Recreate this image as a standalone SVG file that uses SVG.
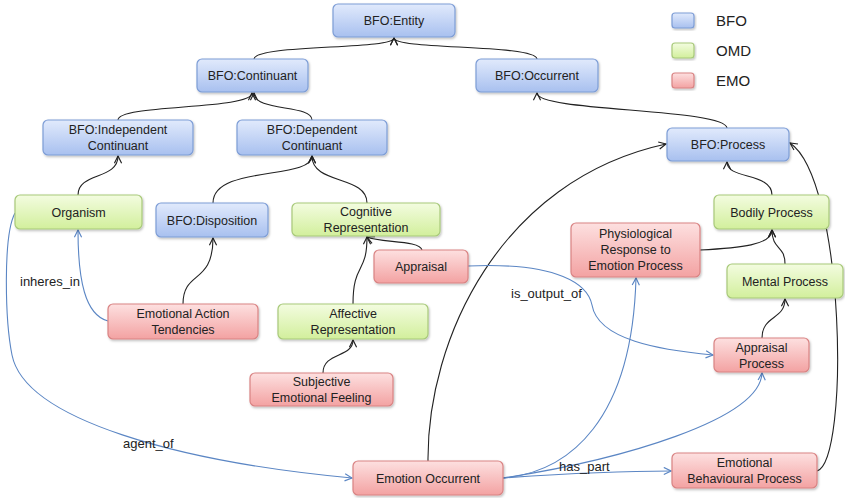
<svg xmlns="http://www.w3.org/2000/svg" width="845" height="498" viewBox="0 0 845 498">
<defs>
<linearGradient id="gB" x1="0" y1="0" x2="0" y2="1"><stop offset="0" stop-color="#e1eafc"/><stop offset="1" stop-color="#a8c0ef"/></linearGradient>
<linearGradient id="gG" x1="0" y1="0" x2="0" y2="1"><stop offset="0" stop-color="#f3fce0"/><stop offset="1" stop-color="#d2ef9c"/></linearGradient>
<linearGradient id="gR" x1="0" y1="0" x2="0" y2="1"><stop offset="0" stop-color="#fde0e0"/><stop offset="1" stop-color="#f3a2a2"/></linearGradient>
<filter id="sh" x="-10%" y="-10%" width="120%" height="130%"><feDropShadow dx="1" dy="1.5" stdDeviation="1" flood-color="#000" flood-opacity="0.25"/></filter>
<marker id="aK" viewBox="0 0 10 10" refX="9" refY="5" markerWidth="9" markerHeight="9" markerUnits="userSpaceOnUse" orient="auto"><path d="M1,1 L9,5 L1,9" fill="none" stroke="#222" stroke-width="1.3"/></marker>
<marker id="aB" viewBox="0 0 10 10" refX="9" refY="5" markerWidth="9" markerHeight="9" markerUnits="userSpaceOnUse" orient="auto"><path d="M1,1 L9,5 L1,9" fill="none" stroke="#5b86c4" stroke-width="1.3"/></marker>
</defs>
<style>
.n rect{stroke-width:1.2;filter:url(#sh)}
.b rect{fill:url(#gB);stroke:#7d9dd6}
.g rect{fill:url(#gG);stroke:#a8c97a}
.r rect{fill:url(#gR);stroke:#d98383}
.n text{font-family:"Liberation Sans",Arial,sans-serif;font-size:12.5px;fill:#222;text-anchor:middle}
.k{fill:none;stroke:#222;stroke-width:1.1;marker-end:url(#aK)}
.u{fill:none;stroke:#5b86c4;stroke-width:1.1;marker-end:url(#aB)}
.lbl{font-family:"Liberation Sans",Arial,sans-serif;font-size:13px;fill:#222}
.leg{font-family:"Liberation Sans",Arial,sans-serif;font-size:15px;fill:#222}
</style>
<rect width="845" height="498" fill="#fff"/>
<g id="connectors">
<path class="k" d="M254,59 C256,44 394,50 394,38"/>
<path class="k" d="M537,59 C535,44 394,50 394,38"/>
<path class="k" d="M118,120 C118,104 252,110 252,93"/>
<path class="k" d="M312,120 C312,104 254,112 254,93"/>
<path class="k" d="M78,195 C78,172 118,180 118,156"/>
<path class="k" d="M213,203 C213,165 312,180 312,156"/>
<path class="k" d="M367,203 C367,175 312,185 312,156"/>
<path class="k" d="M183,304 C183,270 213,285 213,238"/>
<path class="k" d="M353,304 C353,262 367,275 367,237"/>
<path class="k" d="M422,250 C420,240 380,243 367,237"/>
<path class="k" d="M323,373 C323,352 353,358 353,340"/>
<path class="k" d="M727,128 C725,108 537,112 537,93"/>
<path class="k" d="M428,461 C427,340 500,180 666,144"/>
<path class="k" d="M772,195 C772,172 727,180 727,162"/>
<path class="k" d="M700,250 C740,248 772,245 772,230"/>
<path class="k" d="M785,264 C785,245 772,250 772,230"/>
<path class="k" d="M762,338 C762,315 785,320 785,299"/>
<path class="k" d="M817,471 C850,460 845,180 790,143"/>
<path class="u" d="M108,321 C85,315 78,280 78,230"/>
<path class="u" d="M15,213 C3,235 5,320 12,355 C25,420 180,462 352,478"/>
<path class="u" d="M468,266 C560,262 588,285 592,305 C598,340 660,350 713,355"/>
<path class="u" d="M503,478 C570,472 632,420 636,278"/>
<path class="u" d="M503,478 C620,460 760,420 762,373"/>
<path class="u" d="M503,478 C560,474 620,471 671,471"/>
<text class="lbl" x="20" y="286">inheres_in</text>
<text class="lbl" x="511" y="298">is_output_of</text>
<text class="lbl" x="123" y="448">agent_of</text>
<text class="lbl" x="559" y="471">has_part</text>
</g>
<g id="entity" class="n b"><rect x="333" y="4" width="122" height="33" rx="5"/><text x="394" y="25">BFO:Entity</text></g>
<g id="continuant" class="n b"><rect x="197" y="59" width="111" height="33" rx="5"/><text x="252.5" y="80">BFO:Continuant</text></g>
<g id="occurrent" class="n b"><rect x="476" y="59" width="122" height="33" rx="5"/><text x="537" y="80">BFO:Occurrent</text></g>
<g id="indep" class="n b"><rect x="43" y="120" width="150" height="35" rx="5"/><text x="118" y="134">BFO:Independent</text><text x="118" y="150">Continuant</text></g>
<g id="dep" class="n b"><rect x="237" y="120" width="150" height="35" rx="5"/><text x="312" y="134">BFO:Dependent</text><text x="312" y="150">Continuant</text></g>
<g id="organism" class="n g"><rect x="15" y="195" width="127" height="34" rx="5"/><text x="78.5" y="216.5">Organism</text></g>
<g id="disposition" class="n b"><rect x="156" y="203" width="112" height="34" rx="5"/><text x="212" y="224.5">BFO:Disposition</text></g>
<g id="cogrep" class="n g"><rect x="292" y="203" width="148" height="33" rx="5"/><text x="366" y="215.5">Cognitive</text><text x="366" y="231.5">Representation</text></g>
<g id="appraisal" class="n r"><rect x="374" y="250" width="94" height="33" rx="5"/><text x="421" y="271">Appraisal</text></g>
<g id="eat" class="n r"><rect x="108" y="304" width="150" height="35" rx="5"/><text x="183" y="318">Emotional Action</text><text x="183" y="334">Tendencies</text></g>
<g id="affrep" class="n g"><rect x="278" y="304" width="150" height="35" rx="5"/><text x="353" y="318">Affective</text><text x="353" y="334">Representation</text></g>
<g id="sef" class="n r"><rect x="250" y="373" width="143" height="33" rx="5"/><text x="321.5" y="386">Subjective</text><text x="321.5" y="402">Emotional Feeling</text></g>
<g id="process" class="n b"><rect x="667" y="128" width="122" height="33" rx="5"/><text x="728" y="149">BFO:Process</text></g>
<g id="bodily" class="n g"><rect x="714" y="195" width="115" height="34" rx="5"/><text x="771.5" y="216.5">Bodily Process</text></g>
<g id="physio" class="n r"><rect x="571" y="223" width="129" height="54" rx="5"/><text x="635.5" y="238">Physiological</text><text x="635.5" y="254">Response to</text><text x="635.5" y="270">Emotion Process</text></g>
<g id="mental" class="n g"><rect x="727" y="264" width="116" height="34" rx="5"/><text x="785" y="285.5">Mental Process</text></g>
<g id="approc" class="n r"><rect x="714" y="338" width="95" height="34" rx="5"/><text x="761.5" y="351.5">Appraisal</text><text x="761.5" y="367.5">Process</text></g>
<g id="ebp" class="n r"><rect x="672" y="453" width="145" height="35" rx="5"/><text x="744.5" y="467">Emotional</text><text x="744.5" y="483">Behavioural Process</text></g>
<g id="eo" class="n r"><rect x="353" y="461" width="150" height="34" rx="5"/><text x="428" y="482.5">Emotion Occurrent</text></g>
<g id="legend">
<g class="n b"><rect x="672" y="13" width="22" height="15" rx="3"/></g>
<g class="n g"><rect x="672" y="43" width="22" height="15" rx="3"/></g>
<g class="n r"><rect x="672" y="73" width="22" height="15" rx="3"/></g>
<text class="leg" x="716" y="26">BFO</text>
<text class="leg" x="716" y="56">OMD</text>
<text class="leg" x="716" y="86">EMO</text>
</g>
</svg>
